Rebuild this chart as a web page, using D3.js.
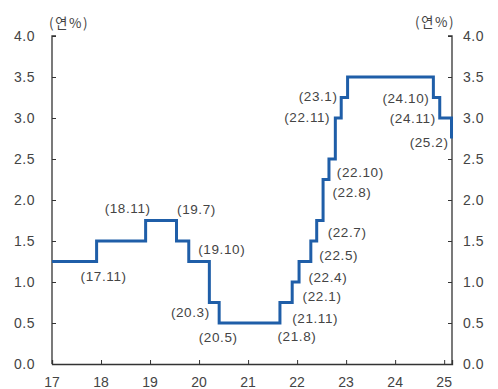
<!DOCTYPE html>
<html>
<head>
<meta charset="utf-8">
<script src="https://cdn.jsdelivr.net/npm/d3@7"></script>
<style>
  body { margin: 0; background: #fff; }
  text { font-family: "Liberation Sans", Arial, sans-serif; fill: #444; }
</style>
</head>
<body>
<div id="chart"></div>
<script>
// base rate changes (decimal year, new rate)
const startYear = 2017;
const startRate = 1.25;
const changeDates = [2017.91, 2018.91, 2019.54, 2019.79, 2020.21, 2020.41, 2021.65, 2021.90,
    2022.04, 2022.28, 2022.40, 2022.53, 2022.65, 2022.78, 2022.90, 2023.03, 2024.78, 2024.91, 2025.15];
const changeRates = [1.50, 1.75, 1.50, 1.25, 0.75, 0.50, 0.75, 1.00,
    1.25, 1.50, 1.75, 2.25, 2.50, 3.00, 3.25, 3.50, 3.25, 3.00, 2.75];
const changeLabels = ["(17.11)", "(18.11)", "(19.7)", "(19.10)", "(20.3)", "(20.5)", "(21.8)", "(21.11)",
    "(22.1)", "(22.4)", "(22.5)", "(22.7)", "(22.8)", "(22.10)", "(22.11)", "(23.1)", "(24.10)", "(24.11)", "(25.2)"];
const xTicks = [2017, 2018, 2019, 2020, 2021, 2022, 2023, 2024, 2025];
const yTicks = [0, 0.5, 1, 1.5, 2, 2.5, 3, 3.5, 4];
const unitLabel = "(연%)";

// label placement relative to each step point: [dx, dy, anchor]
const labelPlace = [
    [7, 35, "middle"], [-18, -12, "middle"], [20, -32, "middle"], [33, -12, "middle"],
    [-19, 10, "middle"], [-1, 14, "middle"], [17, 34, "middle"], [23, 36, "middle"],
    [23, 35, "middle"], [17, 36, "middle"], [22, 35, "middle"], [24, 53, "middle"],
    [23, 33, "middle"], [25, 54, "middle"], [-11, 20, "end"], [-10, 19, "end"],
    [-4, 1, "end"], [-4, 0, "end"], [-3, 4, "end"]
];

const width = 498, height = 389;
const margin = { top: 36, right: 46, bottom: 25, left: 52 };

const svg = d3.select("#chart").append("svg")
    .attr("width", width)
    .attr("height", height);

const x = d3.scaleLinear().domain([2017, 2025.16]).range([margin.left, width - margin.right]);
const y = d3.scaleLinear().domain([0, 4]).range([height - margin.bottom, margin.top]);

// axes
const axisColor = "#333";
const left = svg.append("g")
    .attr("transform", `translate(${margin.left},0)`)
    .call(d3.axisRight(y).tickValues(yTicks).tickSize(4).tickFormat(""));
const right = svg.append("g")
    .attr("transform", `translate(${width - margin.right},0)`)
    .call(d3.axisLeft(y).tickValues(yTicks).tickSize(4).tickFormat(""));
const bottom = svg.append("g")
    .attr("transform", `translate(0,${height - margin.bottom})`)
    .call(d3.axisTop(x).tickValues(xTicks).tickSize(4).tickFormat(""));
[left, right, bottom].forEach(g => {
    g.select(".domain").attr("stroke", axisColor).attr("stroke-width", 1.3);
    g.selectAll(".tick line").attr("stroke", axisColor).attr("stroke-width", 1);
});
left.select(".domain").attr("d", `M4,${y(4)}H0V${y(0)}`);
right.select(".domain").attr("d", `M-4,${y(4)}H0V${y(0)}`);

// tick labels
svg.append("g").selectAll("text")
    .data(yTicks).join("text")
    .attr("x", margin.left - 17)
    .attr("y", d => y(d))
    .attr("dy", "0.36em")
    .attr("text-anchor", "end")
    .attr("font-size", 14)
    .attr("letter-spacing", 0.5)
    .text(d => d.toFixed(1));
svg.append("g").selectAll("text")
    .data(yTicks).join("text")
    .attr("x", width - margin.right + 11)
    .attr("y", d => y(d))
    .attr("dy", "0.36em")
    .attr("text-anchor", "start")
    .attr("font-size", 14)
    .attr("letter-spacing", 0.5)
    .text(d => d.toFixed(1));
svg.append("g").selectAll("text")
    .data(xTicks).join("text")
    .attr("x", d => x(d))
    .attr("y", height - margin.bottom + 18)
    .attr("dy", "0.36em")
    .attr("text-anchor", "middle")
    .attr("font-size", 14)
    .text(d => String(d).slice(2));

// unit labels
svg.append("text")
    .attr("x", margin.left + 17).attr("y", 23).attr("dy", "0.36em")
    .attr("text-anchor", "middle").attr("font-size", 13.5)
    .attr("letter-spacing", 1.5)
    .style("font-family", "'Noto Sans CJK KR', sans-serif")
    .text(unitLabel);
svg.append("text")
    .attr("x", width - margin.right - 17).attr("y", 22).attr("dy", "0.36em")
    .attr("text-anchor", "middle").attr("font-size", 13.5)
    .attr("letter-spacing", 1.5)
    .style("font-family", "'Noto Sans CJK KR', sans-serif")
    .text(unitLabel);

// step line
const points = [{ t: startYear, v: startRate }]
    .concat(changeDates.map((t, i) => ({ t: t, v: changeRates[i] })));
const line = d3.line()
    .x(d => x(d.t))
    .y(d => y(d.v))
    .curve(d3.curveStepAfter);
svg.append("path")
    .datum(points)
    .attr("fill", "none")
    .attr("stroke", "#1f5ea8")
    .attr("stroke-width", 3)
    .attr("d", line);

// change labels
svg.append("g").selectAll("text")
    .data(changeLabels).join("text")
    .attr("x", (d, i) => x(changeDates[i]) + labelPlace[i][0])
    .attr("y", (d, i) => y(changeRates[i]) + labelPlace[i][1])
    .attr("dy", "0.36em")
    .attr("text-anchor", (d, i) => labelPlace[i][2])
    .attr("font-size", 13.5)
    .attr("letter-spacing", 0.6)
    .text(d => d);
</script>
</body>
</html>
